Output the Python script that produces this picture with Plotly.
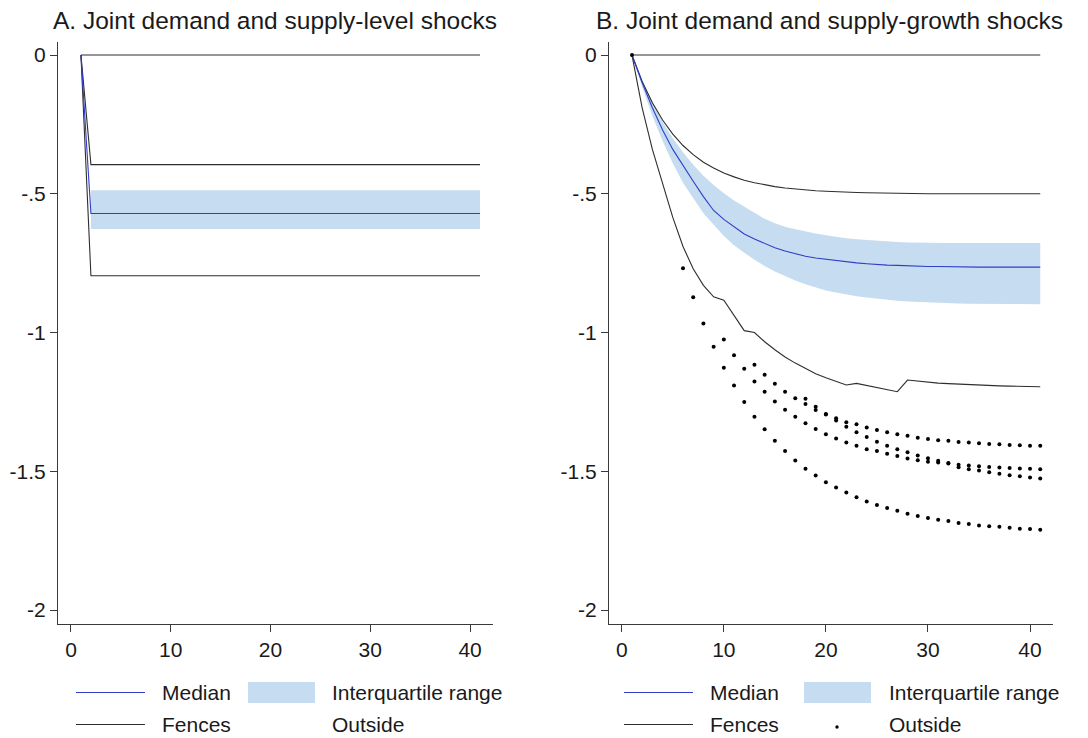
import plotly.graph_objects as go

# Horizon (periods after the shock)
periods = list(range(1, 42))

# ---------- Panel A: joint demand and supply-level shocks ----------
a_zero = [0.0] + [0.0] * 40
a_upper_fence = [0.0, -0.395, -0.395, -0.395, -0.395, -0.395, -0.395, -0.395, -0.395, -0.395,
                 -0.395, -0.395, -0.395, -0.395, -0.395, -0.395, -0.395, -0.395, -0.395, -0.395,
                 -0.395, -0.395, -0.395, -0.395, -0.395, -0.395, -0.395, -0.395, -0.395, -0.395,
                 -0.395, -0.395, -0.395, -0.395, -0.395, -0.395, -0.395, -0.395, -0.395, -0.395,
                 -0.395]
a_iqr_high = [None, -0.487, -0.487, -0.487, -0.487, -0.487, -0.487, -0.487, -0.487, -0.487,
              -0.487, -0.487, -0.487, -0.487, -0.487, -0.487, -0.487, -0.487, -0.487, -0.487,
              -0.487, -0.487, -0.487, -0.487, -0.487, -0.487, -0.487, -0.487, -0.487, -0.487,
              -0.487, -0.487, -0.487, -0.487, -0.487, -0.487, -0.487, -0.487, -0.487, -0.487,
              -0.487]
a_median = [0.0, -0.571, -0.571, -0.571, -0.571, -0.571, -0.571, -0.571, -0.571, -0.571,
            -0.571, -0.571, -0.571, -0.571, -0.571, -0.571, -0.571, -0.571, -0.571, -0.571,
            -0.571, -0.571, -0.571, -0.571, -0.571, -0.571, -0.571, -0.571, -0.571, -0.571,
            -0.571, -0.571, -0.571, -0.571, -0.571, -0.571, -0.571, -0.571, -0.571, -0.571,
            -0.571]
a_iqr_low = [None, -0.627, -0.627, -0.627, -0.627, -0.627, -0.627, -0.627, -0.627, -0.627,
             -0.627, -0.627, -0.627, -0.627, -0.627, -0.627, -0.627, -0.627, -0.627, -0.627,
             -0.627, -0.627, -0.627, -0.627, -0.627, -0.627, -0.627, -0.627, -0.627, -0.627,
             -0.627, -0.627, -0.627, -0.627, -0.627, -0.627, -0.627, -0.627, -0.627, -0.627,
             -0.627]
a_lower_fence = [0.0, -0.795, -0.795, -0.795, -0.795, -0.795, -0.795, -0.795, -0.795, -0.795,
                 -0.795, -0.795, -0.795, -0.795, -0.795, -0.795, -0.795, -0.795, -0.795, -0.795,
                 -0.795, -0.795, -0.795, -0.795, -0.795, -0.795, -0.795, -0.795, -0.795, -0.795,
                 -0.795, -0.795, -0.795, -0.795, -0.795, -0.795, -0.795, -0.795, -0.795, -0.795,
                 -0.795]

# ---------- Panel B: joint demand and supply-growth shocks ----------
b_zero = [0.0] + [0.0] * 40
b_upper_fence = [0.0, -0.095, -0.172, -0.234, -0.285, -0.326, -0.359, -0.386, -0.407, -0.425,
                 -0.439, -0.451, -0.460, -0.468, -0.474, -0.479, -0.483, -0.486, -0.489, -0.491,
                 -0.493, -0.494, -0.495, -0.496, -0.497, -0.498, -0.498, -0.499, -0.499, -0.500,
                 -0.500, -0.500, -0.500, -0.500, -0.500, -0.500, -0.500, -0.500, -0.500, -0.500,
                 -0.500]
b_iqr_high = [0.0, -0.090, -0.170, -0.240, -0.300, -0.350, -0.395, -0.435, -0.468, -0.498,
              -0.524, -0.547, -0.570, -0.590, -0.606, -0.619, -0.628, -0.636, -0.643, -0.649,
              -0.655, -0.660, -0.664, -0.667, -0.670, -0.672, -0.674, -0.675, -0.676, -0.677,
              -0.677, -0.677, -0.677, -0.677, -0.677, -0.677, -0.677, -0.677, -0.677, -0.677,
              -0.677]
b_median = [0.0, -0.100, -0.190, -0.270, -0.340, -0.400, -0.455, -0.510, -0.560, -0.592,
            -0.620, -0.645, -0.663, -0.680, -0.694, -0.706, -0.716, -0.725, -0.731, -0.736,
            -0.741, -0.746, -0.749, -0.752, -0.755, -0.757, -0.758, -0.760, -0.761, -0.762,
            -0.762, -0.763, -0.763, -0.763, -0.764, -0.764, -0.764, -0.764, -0.764, -0.764,
            -0.764]
b_iqr_low = [0.0, -0.115, -0.220, -0.310, -0.390, -0.460, -0.515, -0.570, -0.612, -0.652,
             -0.685, -0.712, -0.738, -0.760, -0.780, -0.797, -0.812, -0.826, -0.838, -0.848,
             -0.856, -0.863, -0.869, -0.874, -0.878, -0.882, -0.885, -0.888, -0.890, -0.892,
             -0.893, -0.894, -0.895, -0.896, -0.897, -0.897, -0.898, -0.898, -0.898, -0.898,
             -0.898]
b_lower_fence = [0.0, -0.190, -0.340, -0.465, -0.585, -0.690, -0.770, -0.830, -0.871, -0.883,
                 -0.940, -0.993, -1.000, -1.033, -1.062, -1.088, -1.110, -1.130, -1.148, -1.163,
                 -1.177, -1.189, -1.183, -1.190, -1.198, -1.205, -1.213, -1.171, -1.175, -1.179,
                 -1.182, -1.184, -1.186, -1.188, -1.190, -1.191, -1.192, -1.193, -1.194, -1.195,
                 -1.195]

# Outside values (each run starts at the period given)
b_out_origin_start, b_out_origin = 1, [0.0]
b_out_low_start, b_out_low = 6, [
    -0.768, -0.873, -0.967, -1.051, -1.127, -1.191, -1.250, -1.303, -1.348, -1.390,
    -1.427, -1.461, -1.491, -1.515, -1.539, -1.558, -1.576, -1.593, -1.609, -1.621,
    -1.632, -1.642, -1.653, -1.661, -1.668, -1.674, -1.679, -1.686, -1.690, -1.695,
    -1.698, -1.700, -1.703, -1.707, -1.708, -1.710]
b_out_mid_start, b_out_mid = 10, [
    -1.025, -1.082, -1.130, -1.176, -1.213, -1.248, -1.278, -1.303, -1.327, -1.347,
    -1.366, -1.382, -1.396, -1.408, -1.420, -1.427, -1.437, -1.445, -1.454, -1.460,
    -1.465, -1.468, -1.472, -1.476, -1.479, -1.482, -1.484, -1.486, -1.488, -1.490,
    -1.491, -1.492]
b_out_high_start, b_out_high = 13, [
    -1.116, -1.152, -1.184, -1.213, -1.237, -1.257, -1.279, -1.293, -1.309, -1.323,
    -1.330, -1.342, -1.351, -1.359, -1.366, -1.372, -1.379, -1.383, -1.388, -1.390,
    -1.394, -1.396, -1.399, -1.401, -1.402, -1.405, -1.406, -1.408, -1.408]
b_out_late_start, b_out_late = 18, [
    -1.238, -1.267, -1.295, -1.317, -1.339, -1.359, -1.376, -1.393, -1.408, -1.420,
    -1.431, -1.443, -1.453, -1.462, -1.470, -1.485, -1.492, -1.497, -1.503, -1.509,
    -1.514, -1.518, -1.522, -1.526]

y_tickvals = [0, -0.5, -1, -1.5, -2]
y_ticktext = ["0", "-.5", "-1", "-1.5", "-2"]
x_tickvals = [0, 10, 20, 30, 40]

FONT = "Liberation Sans, Arial, Helvetica, sans-serif"
INK = "#1a1a1a"
AXIS = "#3a3a3a"
FENCE = "#2e2e2e"
MEDIAN = "#2f3ec8"
BAND = "#c6dcf0"

W, H = 1088, 738

fig = go.Figure()


def band_trace(hi, lo, xa, ya):
    xs = [p for p, v in zip(periods, hi) if v is not None]
    his = [v for v in hi if v is not None]
    los = [v for v in lo if v is not None]
    return go.Scatter(x=xs + xs[::-1], y=his + los[::-1], fill="toself",
                      fillcolor=BAND, line=dict(width=0), mode="lines",
                      hoverinfo="skip", showlegend=False, xaxis=xa, yaxis=ya)


def line_trace(ys, color, xa, ya, width=1.1):
    return go.Scatter(x=periods, y=ys, mode="lines",
                      line=dict(color=color, width=width),
                      showlegend=False, xaxis=xa, yaxis=ya)


def dots_trace(start, ys, xa, ya):
    xs = list(range(start, start + len(ys)))
    return go.Scatter(x=xs, y=ys, mode="markers",
                      marker=dict(color="black", size=4, line=dict(width=0)),
                      showlegend=False, xaxis=xa, yaxis=ya)


# Panel A
fig.add_trace(band_trace(a_iqr_high, a_iqr_low, "x", "y"))
fig.add_trace(line_trace(a_zero, FENCE, "x", "y"))
fig.add_trace(line_trace(a_upper_fence, FENCE, "x", "y"))
fig.add_trace(line_trace(a_lower_fence, FENCE, "x", "y"))
fig.add_trace(line_trace(a_median, MEDIAN, "x", "y"))

# Panel B
fig.add_trace(band_trace(b_iqr_high, b_iqr_low, "x2", "y2"))
fig.add_trace(line_trace(b_zero, FENCE, "x2", "y2"))
fig.add_trace(line_trace(b_upper_fence, FENCE, "x2", "y2"))
fig.add_trace(line_trace(b_lower_fence, FENCE, "x2", "y2"))
fig.add_trace(line_trace(b_median, MEDIAN, "x2", "y2"))
for start, ys in [(b_out_origin_start, b_out_origin), (b_out_low_start, b_out_low),
                  (b_out_mid_start, b_out_mid), (b_out_high_start, b_out_high),
                  (b_out_late_start, b_out_late)]:
    fig.add_trace(dots_trace(start, ys, "x2", "y2"))


def px(x):
    return x / W


def py(y):
    return 1 - y / H


axis_common = dict(showline=True, linecolor=AXIS, linewidth=1, ticks="outside",
                   ticklen=7, tickwidth=1, tickcolor=AXIS, showgrid=False,
                   zeroline=False, tickfont=dict(family=FONT, size=21, color=INK))

y_dom = [py(624), py(42)]
fig.update_layout(
    width=W, height=H,
    margin=dict(l=0, r=0, t=0, b=0),
    paper_bgcolor="white", plot_bgcolor="white",
    showlegend=False,
    xaxis=dict(domain=[px(58), px(493)], range=[-1.3, 42.3], tickvals=x_tickvals,
               anchor="y", **axis_common),
    yaxis=dict(domain=y_dom, range=[-2.05, 0.047], tickvals=y_tickvals,
               ticktext=y_ticktext, anchor="x", **axis_common),
    xaxis2=dict(domain=[px(609), px(1053)], range=[-1.25, 42.25], tickvals=x_tickvals,
                anchor="y2", **axis_common),
    yaxis2=dict(domain=y_dom, range=[-2.05, 0.047], tickvals=y_tickvals,
                ticktext=y_ticktext, anchor="x2", **axis_common),
)

annotations = [
    dict(text="A. Joint demand and supply-level shocks", x=px(275), y=py(21),
         xref="paper", yref="paper", xanchor="center", yanchor="middle",
         showarrow=False, font=dict(family=FONT, size=24.5, color=INK)),
    dict(text="B. Joint demand and supply-growth shocks", x=px(829), y=py(21),
         xref="paper", yref="paper", xanchor="center", yanchor="middle",
         showarrow=False, font=dict(family=FONT, size=24.5, color=INK)),
]
shapes = []

# Legend blocks below each panel
for (line_x0, text1_x, swatch_x0, text2_x, dot) in [(76, 160, 248, 330, False),
                                                      (624, 708, 804, 887, True)]:
    shapes.append(dict(type="line", xref="paper", yref="paper",
                       x0=px(line_x0), x1=px(line_x0 + 69), y0=py(692.5), y1=py(692.5),
                       line=dict(color=MEDIAN, width=1.1)))
    shapes.append(dict(type="line", xref="paper", yref="paper",
                       x0=px(line_x0), x1=px(line_x0 + 69), y0=py(724.5), y1=py(724.5),
                       line=dict(color=FENCE, width=1.1)))
    shapes.append(dict(type="rect", xref="paper", yref="paper",
                       x0=px(swatch_x0), x1=px(swatch_x0 + 67), y0=py(703), y1=py(682),
                       fillcolor=BAND, line=dict(width=0)))
    if dot:
        shapes.append(dict(type="circle", xref="paper", yref="paper",
                           x0=px(835.3), x1=px(838.7), y0=py(728.7), y1=py(725.3),
                           fillcolor="black", line=dict(width=0)))
    for txt, tx, ty in [("Median", text1_x, 692), ("Fences", text1_x, 724),
                        ("Interquartile range", text2_x, 692), ("Outside", text2_x, 724)]:
        annotations.append(dict(text=txt, x=px(tx), y=py(ty), xref="paper", yref="paper",
                                xanchor="left", yanchor="middle", showarrow=False,
                                font=dict(family=FONT, size=21, color=INK)))

fig.update_layout(annotations=annotations, shapes=shapes)

fig.write_html("out.html")
